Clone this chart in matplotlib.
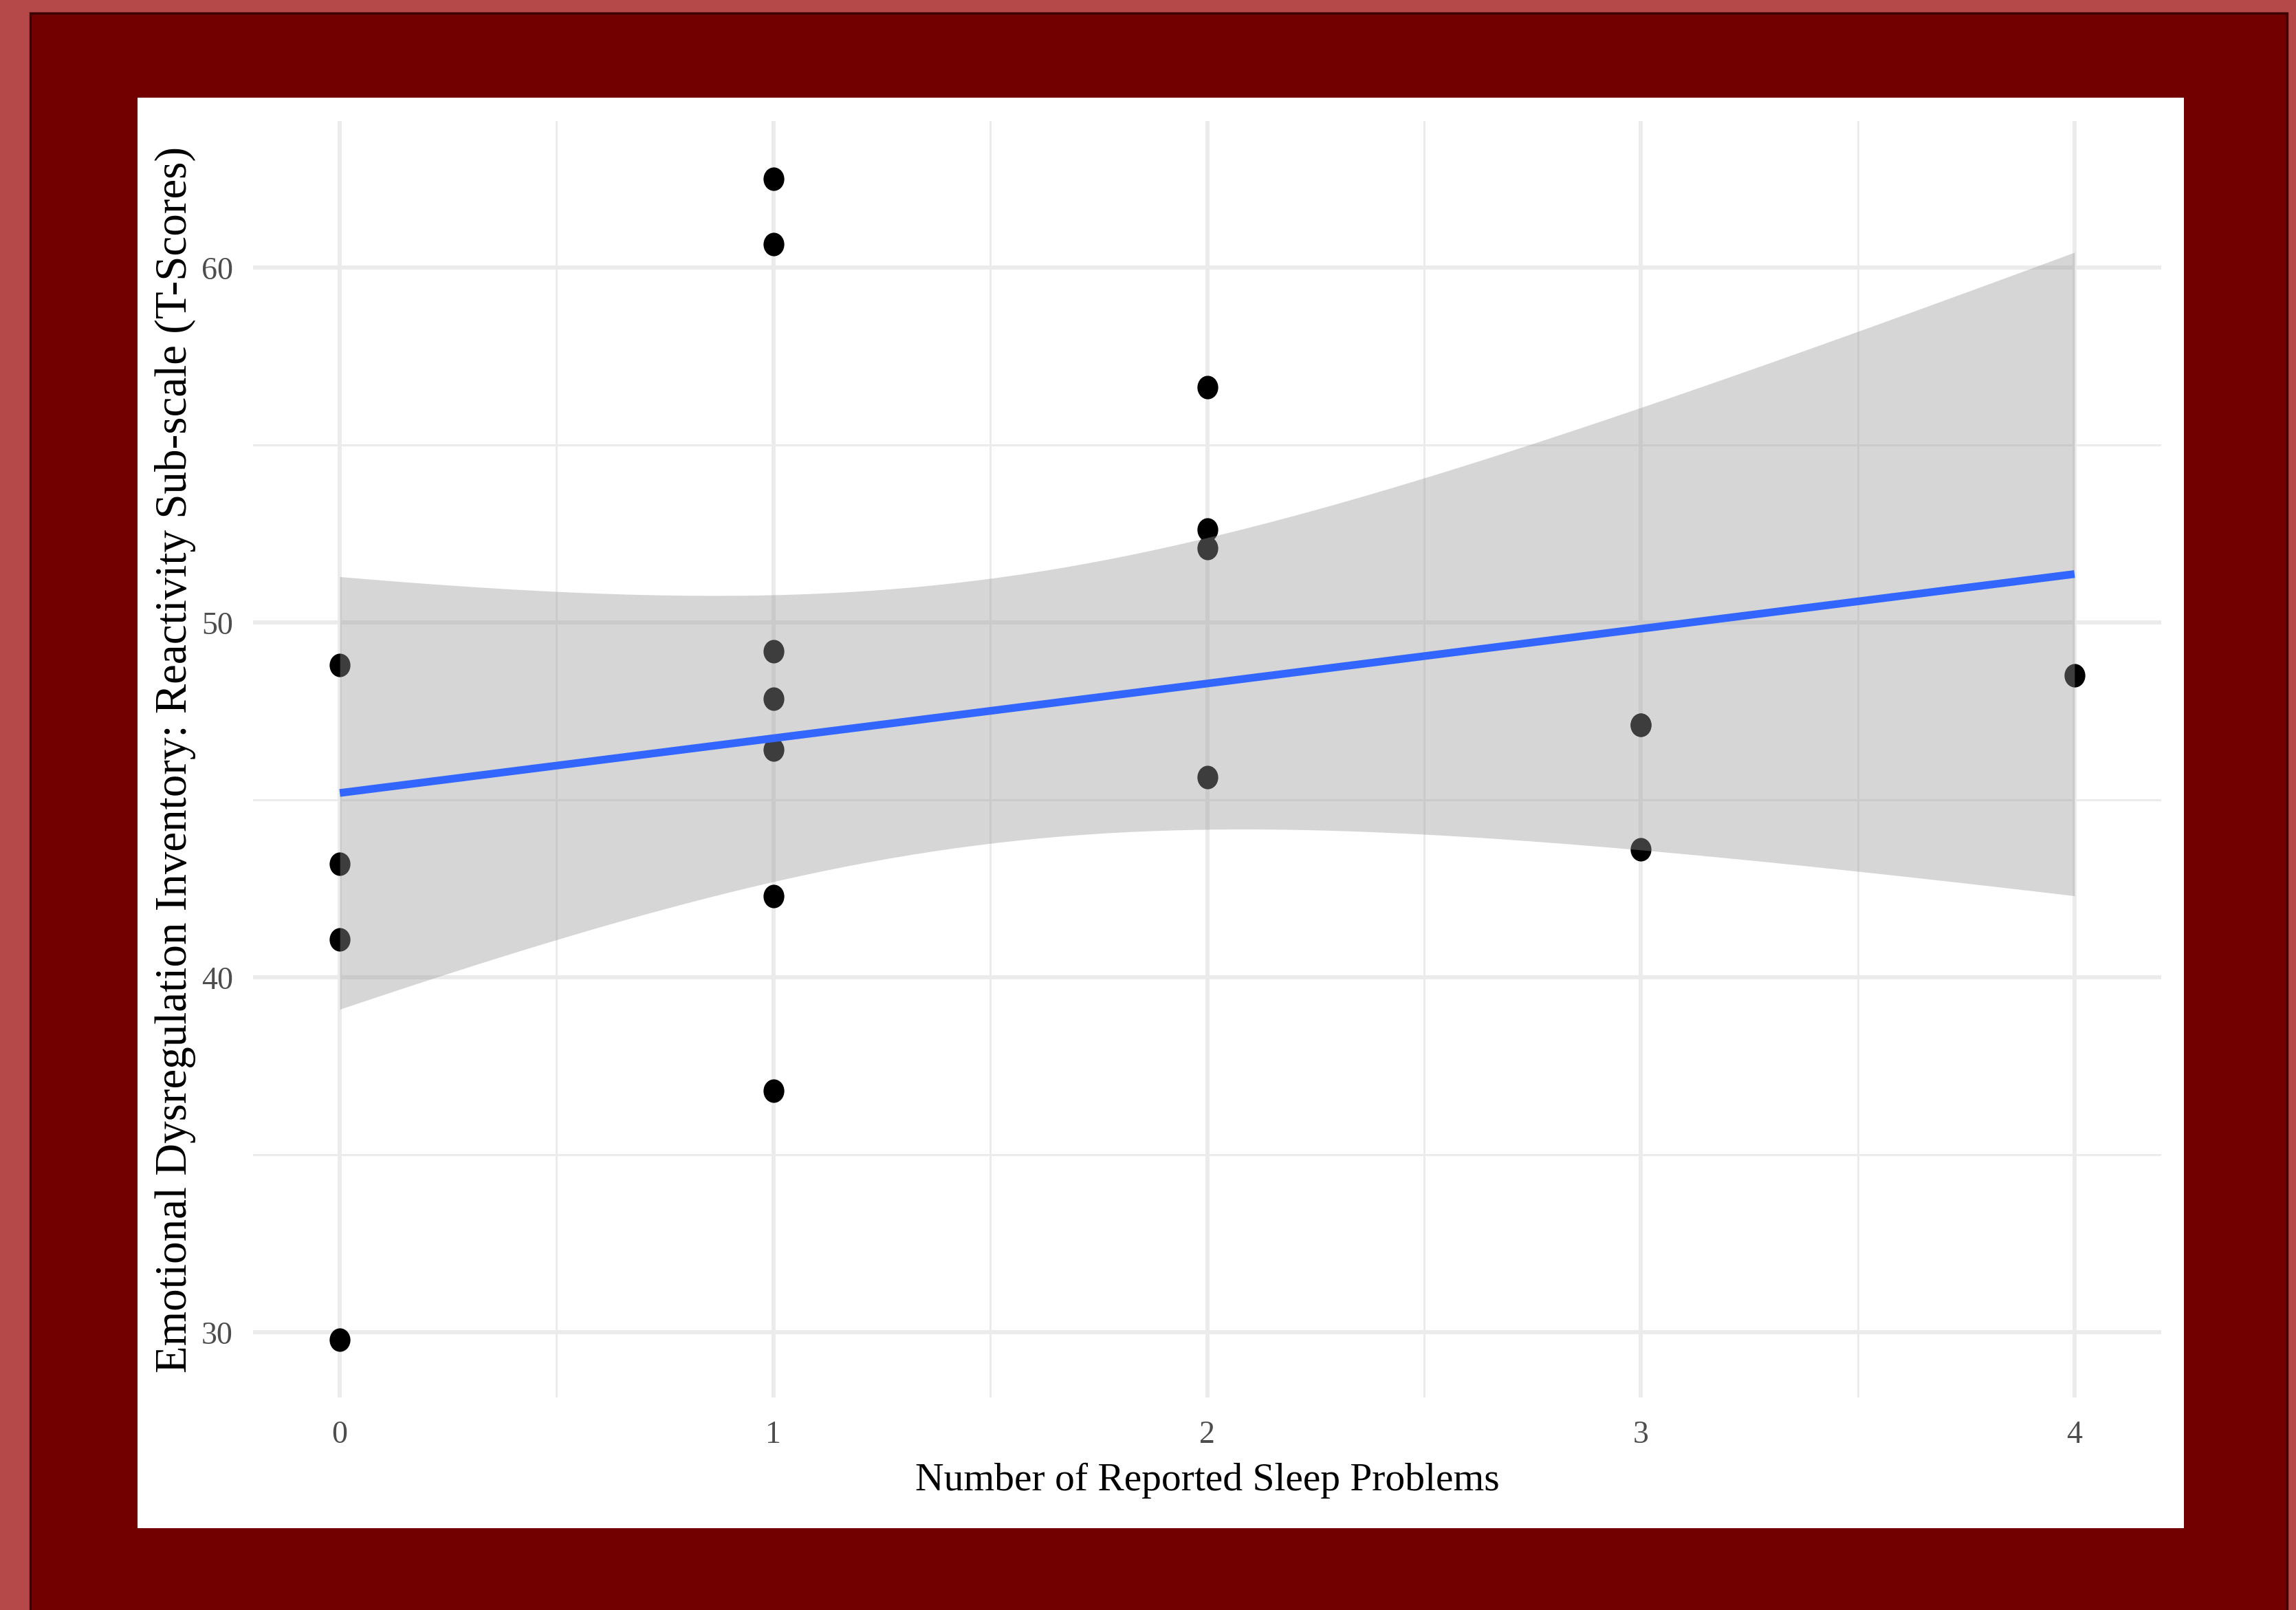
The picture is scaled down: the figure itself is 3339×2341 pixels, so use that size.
import matplotlib.pyplot as plt
import numpy as np
from matplotlib.patches import Rectangle
from matplotlib.path import Path
from matplotlib.transforms import Affine2D

# sleep problems (x) and DERS reactivity T-scores (y)
# (x=3, y=47.12 appears twice - the two points overlap, the fit needs both)
sleep_problems = [0, 0, 0, 0,
                  1, 1, 1, 1, 1, 1, 1,
                  2, 2, 2, 2,
                  3, 3, 3,
                  4]
t_scores = [48.8, 43.2, 41.07, 29.8,
            62.5, 60.66, 49.2, 47.86, 46.42, 42.3, 36.8,
            56.63, 52.63, 52.1, 45.64,
            47.12, 47.12, 43.62,
            48.52]

x_ticks = [0, 1, 2, 3, 4]
y_ticks = [30, 40, 50, 60]
x_title = "Number of Reported Sleep Problems"
y_title = "Emotional Dysregulation Inventory: Reactivity Sub-scale (T-Scores)"

T_975 = 2.1098  # t quantile, 0.975, df = n - 2 = 17

x = np.array(sleep_problems, dtype=float)
y = np.array(t_scores)

# plain least squares fit + 95% confidence band (like geom_smooth(method="lm"))
n = len(x)
mx, my = x.mean(), y.mean()
sxx = ((x - mx) ** 2).sum()
slope = ((x - mx) * (y - my)).sum() / sxx
icept = my - slope * mx
resid = y - (icept + slope * x)
s = np.sqrt((resid ** 2).sum() / (n - 2))
xs = np.linspace(x.min(), x.max(), 80)
fit = icept + slope * xs
se = s * np.sqrt(1 / n + (xs - mx) ** 2 / sxx)
lo, hi = fit - T_975 * se, fit + T_975 * se

plt.rcParams['font.family'] = ['Liberation Serif', 'DejaVu Serif']

W, H = 3339, 2341
fig = plt.figure(figsize=(W / 300, H / 300), dpi=300)
fig.patch.set_facecolor('#b5494a')

# dark red frame and white panel behind the plot
fig.patches.append(Rectangle((44 / W, -0.02), (3326 - 44) / W, 1.02 - 19 / H,
                             transform=fig.transFigure, facecolor='#730000',
                             edgecolor='#3a0000', linewidth=0.8, zorder=-3))
fig.patches.append(Rectangle((200 / W, 1 - 2222 / H), (3176 - 200) / W, (2222 - 142) / H,
                             transform=fig.transFigure, facecolor='white',
                             edgecolor='none', zorder=-2))

ax = fig.add_axes([368 / W, 1 - 2032 / H, (3143 - 368) / W, (2032 - 176) / H])
ax.set_facecolor('none')

ell = Path.unit_circle().transformed(Affine2D().scale(1, 1.15))
ax.plot(x, y, linestyle='none', marker=ell, markersize=7.2, color='black', zorder=2)
ax.fill_between(xs, lo, hi, color='#999999', alpha=0.4, linewidth=0, zorder=3)
ax.plot(xs, fit, color='#3366FF', linewidth=2.7, zorder=4, solid_capstyle='butt')

xr = x.max() - x.min()
ax.set_xlim(x.min() - 0.05 * xr, x.max() + 0.05 * xr)
ymin, ymax = min(y.min(), lo.min()), max(y.max(), hi.max())
yr = ymax - ymin
ax.set_ylim(ymin - 0.05 * yr, ymax + 0.05 * yr)

ax.set_xticks(x_ticks)
ax.set_yticks(y_ticks)
ax.set_xticks([0.5, 1.5, 2.5, 3.5], minor=True)
ax.set_yticks([35, 45, 55], minor=True)
ax.grid(which='major', color='#ebebeb', linewidth=1.4, zorder=0)
ax.grid(which='minor', color='#ebebeb', linewidth=0.7, zorder=0)
ax.set_axisbelow(True)
for sp in ax.spines.values():
    sp.set_visible(False)
ax.tick_params(which='both', length=0)
ax.tick_params(axis='x', labelsize=11, labelcolor='#4d4d4d', pad=8)
ax.tick_params(axis='y', labelsize=11, labelcolor='#4d4d4d', pad=7)

ax.set_xlabel(x_title, fontsize=13.8, color='black')
ax.xaxis.set_label_coords(0.5, -0.0652)
ax.xaxis.label.set_va('center')
ax.set_ylabel(y_title, fontsize=15.6, color='black')
ax.yaxis.set_label_coords(-0.0407, 0.5)
ax.yaxis.label.set_va('center')

fig.savefig('out.png', dpi=300, facecolor=fig.get_facecolor())
